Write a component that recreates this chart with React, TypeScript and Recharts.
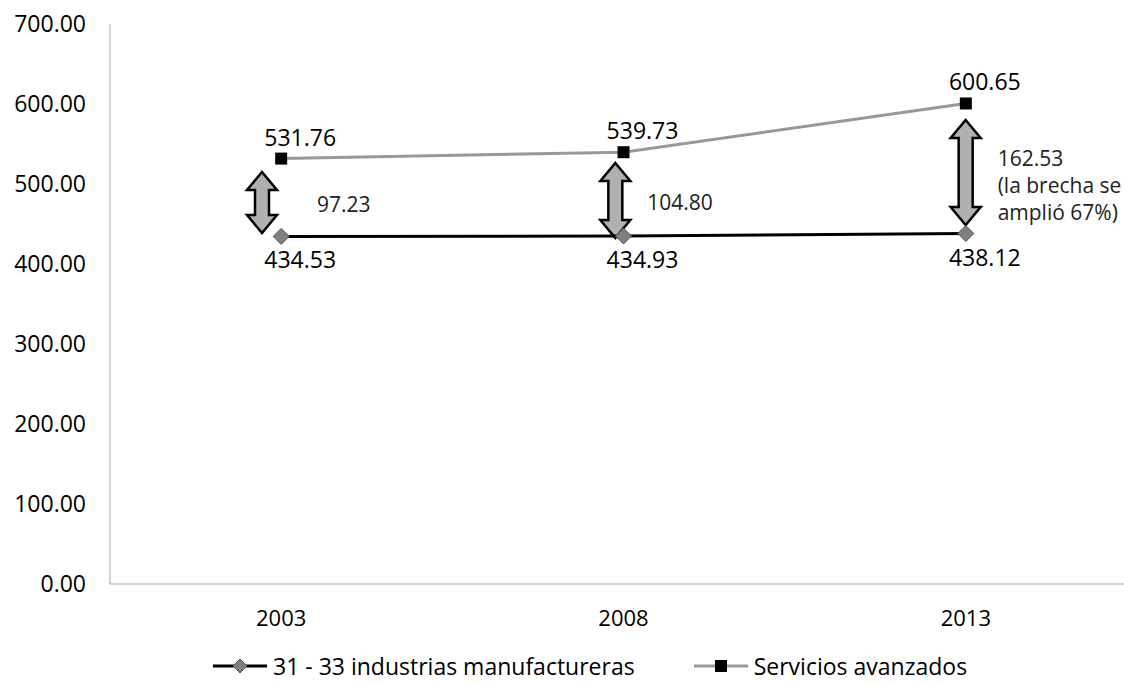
import React from 'react'
import { ComposedChart, Line, Bar, XAxis, YAxis, Legend, LabelList } from 'recharts'

const years = ['2003', '2008', '2013']
const manufactureras = [434.53, 434.93, 438.12]
const servicios = [531.76, 539.73, 600.65]
const brechas = ['97.23', '104.80', '162.53']
const brechaNotas = [[], [], ['(la brecha se', 'amplió 67%)']]
// the hand drawn arrows don't touch the points, ends
const flechaDesde = [438.75, 432.5, 448.75]
const flechaHasta = [515, 526.25, 580]
const yTicks = [0, 100, 200, 300, 400, 500, 600, 700]

// horizontal nudges for arrows / gap text (layout only)
const arrowShift = [-19, -8, 0]
const noteShift = [55, 32, 32]

const FONT = '"Open Sans", sans-serif'

const data = years.map((year, i) => ({
  year,
  manu: manufactureras[i],
  serv: servicios[i],
  flecha: [flechaDesde[i], flechaHasta[i]],
}))

const ArrowShape = (props: any) => {
  const { x, y, width, height, index } = props
  const top = Math.min(y, y + height)
  const bot = Math.max(y, y + height)
  const cx = x + width / 2 + arrowShift[index]
  const hw = 15, sw = 7, hl = 18
  const pts = [
    [cx, top], [cx + hw, top + hl], [cx + sw, top + hl], [cx + sw, bot - hl], [cx + hw, bot - hl],
    [cx, bot], [cx - hw, bot - hl], [cx - sw, bot - hl], [cx - sw, top + hl], [cx - hw, top + hl],
  ]
  const lines = [brechas[index], ...brechaNotas[index]]
  const mid = (top + bot) / 2
  const first = mid + 2 - (lines.length - 1) * 8
  return (
    <g>
      <polygon points={pts.map((p) => p.join(',')).join(' ')} fill="#b0b0b0" stroke="#000" strokeWidth={2.5} strokeLinejoin="miter" />
      {lines.map((t, k) => (
        <text key={k} x={cx + noteShift[index]} y={first + k * 27 + 7.5} fontSize={21} fill="#222" fontFamily={FONT}>
          {t}
        </text>
      ))}
    </g>
  )
}

const Diamond = (props: any) => {
  const { cx, cy } = props
  if (cx == null) return null
  return <polygon points={`${cx},${cy - 8} ${cx + 8},${cy} ${cx},${cy + 8} ${cx - 8},${cy}`} fill="#7f7f7f" stroke="#555" strokeWidth={1} />
}

const Square = (props: any) => {
  const { cx, cy } = props
  if (cx == null) return null
  return <rect x={cx - 6} y={cy - 6} width={12} height={12} fill="#000" />
}

const labelAbove = (props: any) => {
  const { x, y, value } = props
  return (
    <text x={x + 19} y={y - 13} textAnchor="middle" fontSize={23} fill="#000" fontFamily={FONT}>
      {value.toFixed(2)}
    </text>
  )
}

const labelBelow = (props: any) => {
  const { x, y, value } = props
  return (
    <text x={x + 19} y={y + 32} textAnchor="middle" fontSize={23} fill="#000" fontFamily={FONT}>
      {value.toFixed(2)}
    </text>
  )
}

const legendItems = [
  { name: '31 - 33 industrias manufactureras', color: '#000', marker: 'diamond' },
  { name: 'Servicios avanzados', color: '#999', marker: 'square' },
]

const LegendContent = () => (
  <div
    style={{
      display: 'flex',
      justifyContent: 'flex-start',
      paddingLeft: 213,
      gap: 59,
      fontFamily: FONT,
      fontSize: 23,
      lineHeight: '24px',
      height: 28,
      alignItems: 'center',
      color: '#000',
    }}
  >
    {legendItems.map((it) => (
      <div key={it.name} style={{ display: 'flex', alignItems: 'center', gap: 6 }}>
        <svg width={54} height={20}>
          <line x1={0} y1={10} x2={54} y2={10} stroke={it.color} strokeWidth={3} />
          {it.marker === 'diamond' ? (
            <polygon points="27,3 34,10 27,17 20,10" fill="#7f7f7f" stroke="#555" />
          ) : (
            <rect x={21} y={4} width={12} height={12} fill="#000" />
          )}
        </svg>
        <span>{it.name}</span>
      </div>
    ))}
  </div>
)

export default function App() {
  return (
    <div style={{ position: 'absolute', left: 0, top: 0, width: 1124, height: 684, overflow: 'hidden', background: '#fff', fontFamily: FONT }}>
      <ComposedChart width={1137} height={684} data={data} margin={{ top: 24, right: 0, bottom: 0, left: 0 }}>
        <XAxis
          dataKey="year"
          stroke="#a6a6a6"
          tickLine={false}
          tickSize={0}
          tickMargin={26}
          height={68}
          tick={{ fill: '#000', fontSize: 22, fontFamily: FONT }}
        />
        <YAxis
          domain={[0, 700]}
          ticks={yTicks}
          width={110}
          stroke="#a6a6a6"
          tickLine={false}
          tickSize={0}
          tickMargin={24}
          tickFormatter={(v: number) => v.toFixed(2)}
          tick={{ fill: '#000', fontSize: 23, fontFamily: FONT }}
        />
        <Legend verticalAlign="bottom" align="left" height={32} wrapperStyle={{ left: 0, width: 1137 }} content={<LegendContent />} />
        <Bar dataKey="flecha" barSize={30} shape={<ArrowShape />} isAnimationActive={false} legendType="none" />
        <Line
          dataKey="manu"
          name="31 - 33 industrias manufactureras"
          stroke="#000"
          strokeWidth={3}
          dot={<Diamond />}
          activeDot={false}
          isAnimationActive={false}
        >
          <LabelList dataKey="manu" content={labelBelow} />
        </Line>
        <Line
          dataKey="serv"
          name="Servicios avanzados"
          stroke="#999"
          strokeWidth={3}
          dot={<Square />}
          activeDot={false}
          isAnimationActive={false}
        >
          <LabelList dataKey="serv" content={labelAbove} />
        </Line>
      </ComposedChart>
    </div>
  )
}
